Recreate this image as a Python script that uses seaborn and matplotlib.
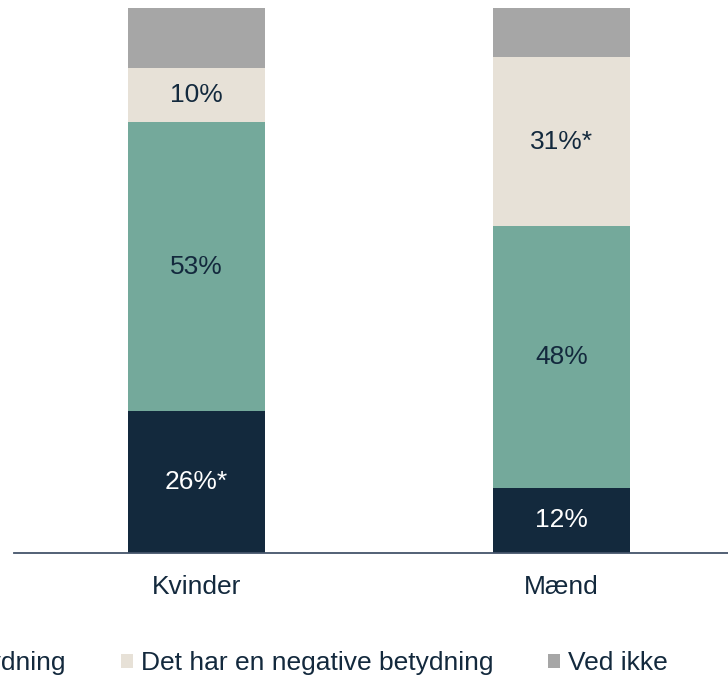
import numpy as np
import matplotlib
matplotlib.use("Agg")
import matplotlib.pyplot as plt
from matplotlib.patches import Patch
import seaborn as sns

groups = ["Kvinder", "Mænd"]
series = [
    "Det har en positiv betydning",
    "Det har ingen betydning",
    "Det har en negative betydning",
    "Ved ikke",
]
positive = [26, 12]
none_ = [53, 48]
negative = [10, 31]
dont_know = [11, 9]
labels_pos = ["26%*", "12%"]
labels_none = ["53%", "48%"]
labels_neg = ["10%", "31%*"]

colors = ["#13293d", "#74a99b", "#e7e1d7", "#a6a6a6"]
text_dark = "#13293d"

sns.set_theme(style="white")
plt.rcParams["font.family"] = ["Liberation Sans", "DejaVu Sans"]

fig = plt.figure(figsize=(7.28, 6.78), dpi=100)
ax = fig.add_axes([14 / 728, 125 / 678, 730 / 728, 545 / 678])

layers = [positive, none_, negative, dont_know]
cum = np.cumsum(np.array(layers), axis=0)

# draw tallest first so lower layers sit on top (stacked look)
for i in range(len(layers) - 1, -1, -1):
    sns.barplot(x=groups, y=cum[i], color=colors[i], saturation=1,
                width=0.378, ax=ax, linewidth=0)

# segment labels
label_sets = [labels_pos, labels_none, labels_neg]
for i, labs in enumerate(label_sets):
    for j, lab in enumerate(labs):
        bottom = cum[i - 1][j] if i > 0 else 0
        mid = bottom + layers[i][j] / 2
        ax.text(j, mid, lab, ha="center", va="center", fontsize=19,
                color="white" if i == 0 else text_dark)

ax.set_xlim(-0.5, 1.5)
ax.set_ylim(0, 100)
ax.set_yticks([])
ax.set_ylabel("")
for s in ["top", "left", "right"]:
    ax.spines[s].set_visible(False)
ax.spines["bottom"].set_color("#44546a")
ax.spines["bottom"].set_linewidth(1.3)
ax.tick_params(axis="x", length=0, pad=15.5, labelsize=19, labelcolor=text_dark)

handles = [Patch(facecolor=c, edgecolor="none") for c in colors]
fig.legend(handles, series, loc="center right",
           bbox_to_anchor=(668 / 728, 15 / 678), ncol=4, frameon=False,
           fontsize=19, handlelength=0.45, handleheight=0.45,
           handletextpad=0.3, columnspacing=2.1, borderpad=0,
           borderaxespad=0, labelcolor=text_dark)

fig.savefig("out.png", dpi=100)
